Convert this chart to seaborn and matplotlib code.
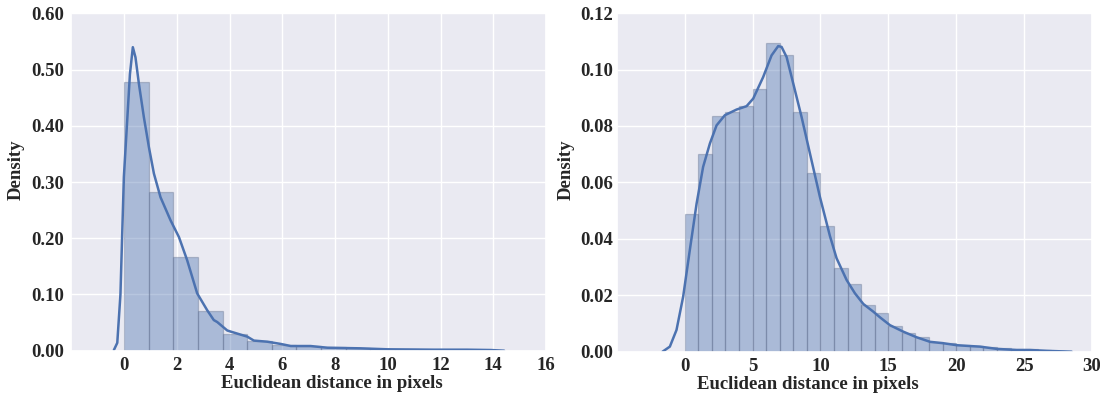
import numpy as np
import pandas as pd
import seaborn as sns
import matplotlib.pyplot as plt

# ---------------- data ----------------
# Left panel: histogram (density) of 15 bins between 0 and ~14.0
left_bin_edges = [0.0, 0.9333, 1.8667, 2.8, 3.7333, 4.6667, 5.6, 6.5333,
                  7.4667, 8.4, 9.3333, 10.2667, 11.2, 12.1333, 13.0667, 14.0]
left_heights = [0.478, 0.283, 0.167, 0.070, 0.0296, 0.0178, 0.0107, 0.0077,
                0.006, 0.004, 0.003, 0.0025, 0.002, 0.0015, 0.001]
# Left panel KDE curve
left_kde_x = [-0.39, -0.26, -0.14, -0.01, 0.22, 0.33, 0.43, 0.56, 0.75, 0.94,
              1.13, 1.38, 1.76, 2.08, 2.39, 2.77, 3.15, 3.40, 3.53, 3.91, 4.04,
              4.67, 4.92, 5.43, 5.94, 6.32, 7.07, 7.71, 8.97, 9.98, 11.75,
              13.0, 13.9, 14.41]
left_kde_y = [0.001, 0.014, 0.10, 0.309, 0.492, 0.540, 0.522, 0.475, 0.415,
              0.362, 0.315, 0.273, 0.232, 0.202, 0.161, 0.102, 0.072, 0.0545,
              0.051, 0.036, 0.034, 0.025, 0.018, 0.016, 0.012, 0.0083, 0.0083,
              0.0053, 0.0042, 0.0025, 0.0018, 0.0018, 0.0012, 0.0]

# Right panel: histogram (density) of 28 bins of width 1 from 0 to 28
right_bin_edges = [0, 1, 2, 3, 4, 5, 6, 7, 8, 9, 10, 11, 12, 13, 14, 15, 16,
                   17, 18, 19, 20, 21, 22, 23, 24, 25, 26, 27, 28]
right_heights = [0.0487, 0.0702, 0.0837, 0.0848, 0.0870, 0.0932, 0.1095, 0.1051,
                 0.0851, 0.0633, 0.0445, 0.0296, 0.0239, 0.0166, 0.0137, 0.0091,
                 0.0067, 0.0051, 0.0035, 0.0030, 0.0022, 0.0021, 0.0015, 0.0012,
                 0.0009, 0.0008, 0.0005, 0.0003]
# Right panel KDE curve
right_kde_x = [-1.63, -1.09, -0.60, -0.11, 0.38, 0.88, 1.36, 1.86, 2.35, 2.96,
               3.82, 4.56, 5.05, 5.78, 6.40, 6.89, 7.14, 7.51, 8.0, 8.61, 9.23,
               9.96, 10.70, 11.19, 11.93, 12.54, 13.16, 13.89, 14.38, 15.12,
               16.10, 17.09, 18.07, 19.05, 20.04, 21.02, 21.75, 22.98, 24.46,
               25.44, 26.67, 28.5]
right_kde_y = [0.0, 0.0018, 0.0077, 0.0195, 0.036, 0.0525, 0.0655, 0.0738,
               0.0802, 0.0838, 0.0858, 0.0870, 0.0897, 0.0973, 0.105, 0.1083,
               0.1080, 0.1044, 0.095, 0.0832, 0.0702, 0.0549, 0.0410, 0.0331,
               0.0254, 0.0207, 0.0169, 0.0142, 0.0122, 0.0094, 0.0071, 0.0051,
               0.0035, 0.0030, 0.0023, 0.0020, 0.0018, 0.0010, 0.0006, 0.0006,
               0.0003, 0.0]

left_xticks = [0, 2, 4, 6, 8, 10, 12, 14, 16]
left_yticks = [0.0, 0.1, 0.2, 0.3, 0.4, 0.5, 0.6]
right_xticks = [0, 5, 10, 15, 20, 25, 30]
right_yticks = [0.0, 0.02, 0.04, 0.06, 0.08, 0.10, 0.12]

x_label = "Euclidean distance in pixels"
y_label = "Density"

# ---------------- style ----------------
sns.set_theme(style="darkgrid")
plt.rcParams['font.family'] = ['Liberation Serif', 'DejaVu Serif']
plt.rcParams['font.weight'] = 'bold'
plt.rcParams['axes.labelweight'] = 'bold'

blue = "#4c72b0"
edge = (0.35, 0.40, 0.52, 0.35)

fig = plt.figure(figsize=(11, 3.96), dpi=100)
ax1 = fig.add_axes([0.0649, 0.1144, 0.4315, 0.8516])
ax2 = fig.add_axes([0.5607, 0.1119, 0.4320, 0.8551])

FS = 13.5


def draw(ax, edges, heights, kx, ky, xlim, ylim, xticks, yticks,
         ypad, xlab_x, ylab_x):
    edges = [float(e) for e in edges]
    centers = [(a + b) / 2 for a, b in zip(edges[:-1], edges[1:])]
    df = pd.DataFrame({"x": centers, "w": heights})
    sns.histplot(data=df, x="x", weights="w", bins=edges, stat="count",
                 color=blue, alpha=0.4, edgecolor=edge, linewidth=0.9, ax=ax)
    kd = pd.DataFrame({"x": kx, "y": ky})
    sns.lineplot(data=kd, x="x", y="y", color=blue, linewidth=1.8,
                 sort=False, ax=ax)
    ax.set_xlim(*xlim)
    ax.set_ylim(*ylim)
    ax.set_xticks(xticks)
    ax.set_yticks(yticks)
    ax.set_yticklabels([f"{v:.2f}" for v in yticks])
    ax.set_xticklabels([str(v) for v in xticks])
    ax.tick_params(axis="x", labelsize=FS, pad=4.5, length=0)
    ax.tick_params(axis="y", labelsize=FS, pad=ypad, length=0)
    for lab in ax.get_xticklabels() + ax.get_yticklabels():
        lab.set_fontweight("bold")
    ax.set_xlabel(x_label, fontsize=FS, fontweight="bold")
    ax.xaxis.set_label_coords(xlab_x, -0.072)
    ax.set_ylabel(y_label, fontsize=FS, fontweight="bold")
    ax.yaxis.set_label_coords(ylab_x, 0.536)


draw(ax1, left_bin_edges, left_heights, left_kde_x, left_kde_y,
     (-2, 16), (0, 0.6), left_xticks, left_yticks, 5.5, 0.549, -0.098)
draw(ax2, right_bin_edges, right_heights, right_kde_x, right_kde_y,
     (-5, 30), (0, 0.12), right_xticks, right_yticks, 2.5, 0.402, -0.088)

fig.savefig("out.png", dpi=100)
